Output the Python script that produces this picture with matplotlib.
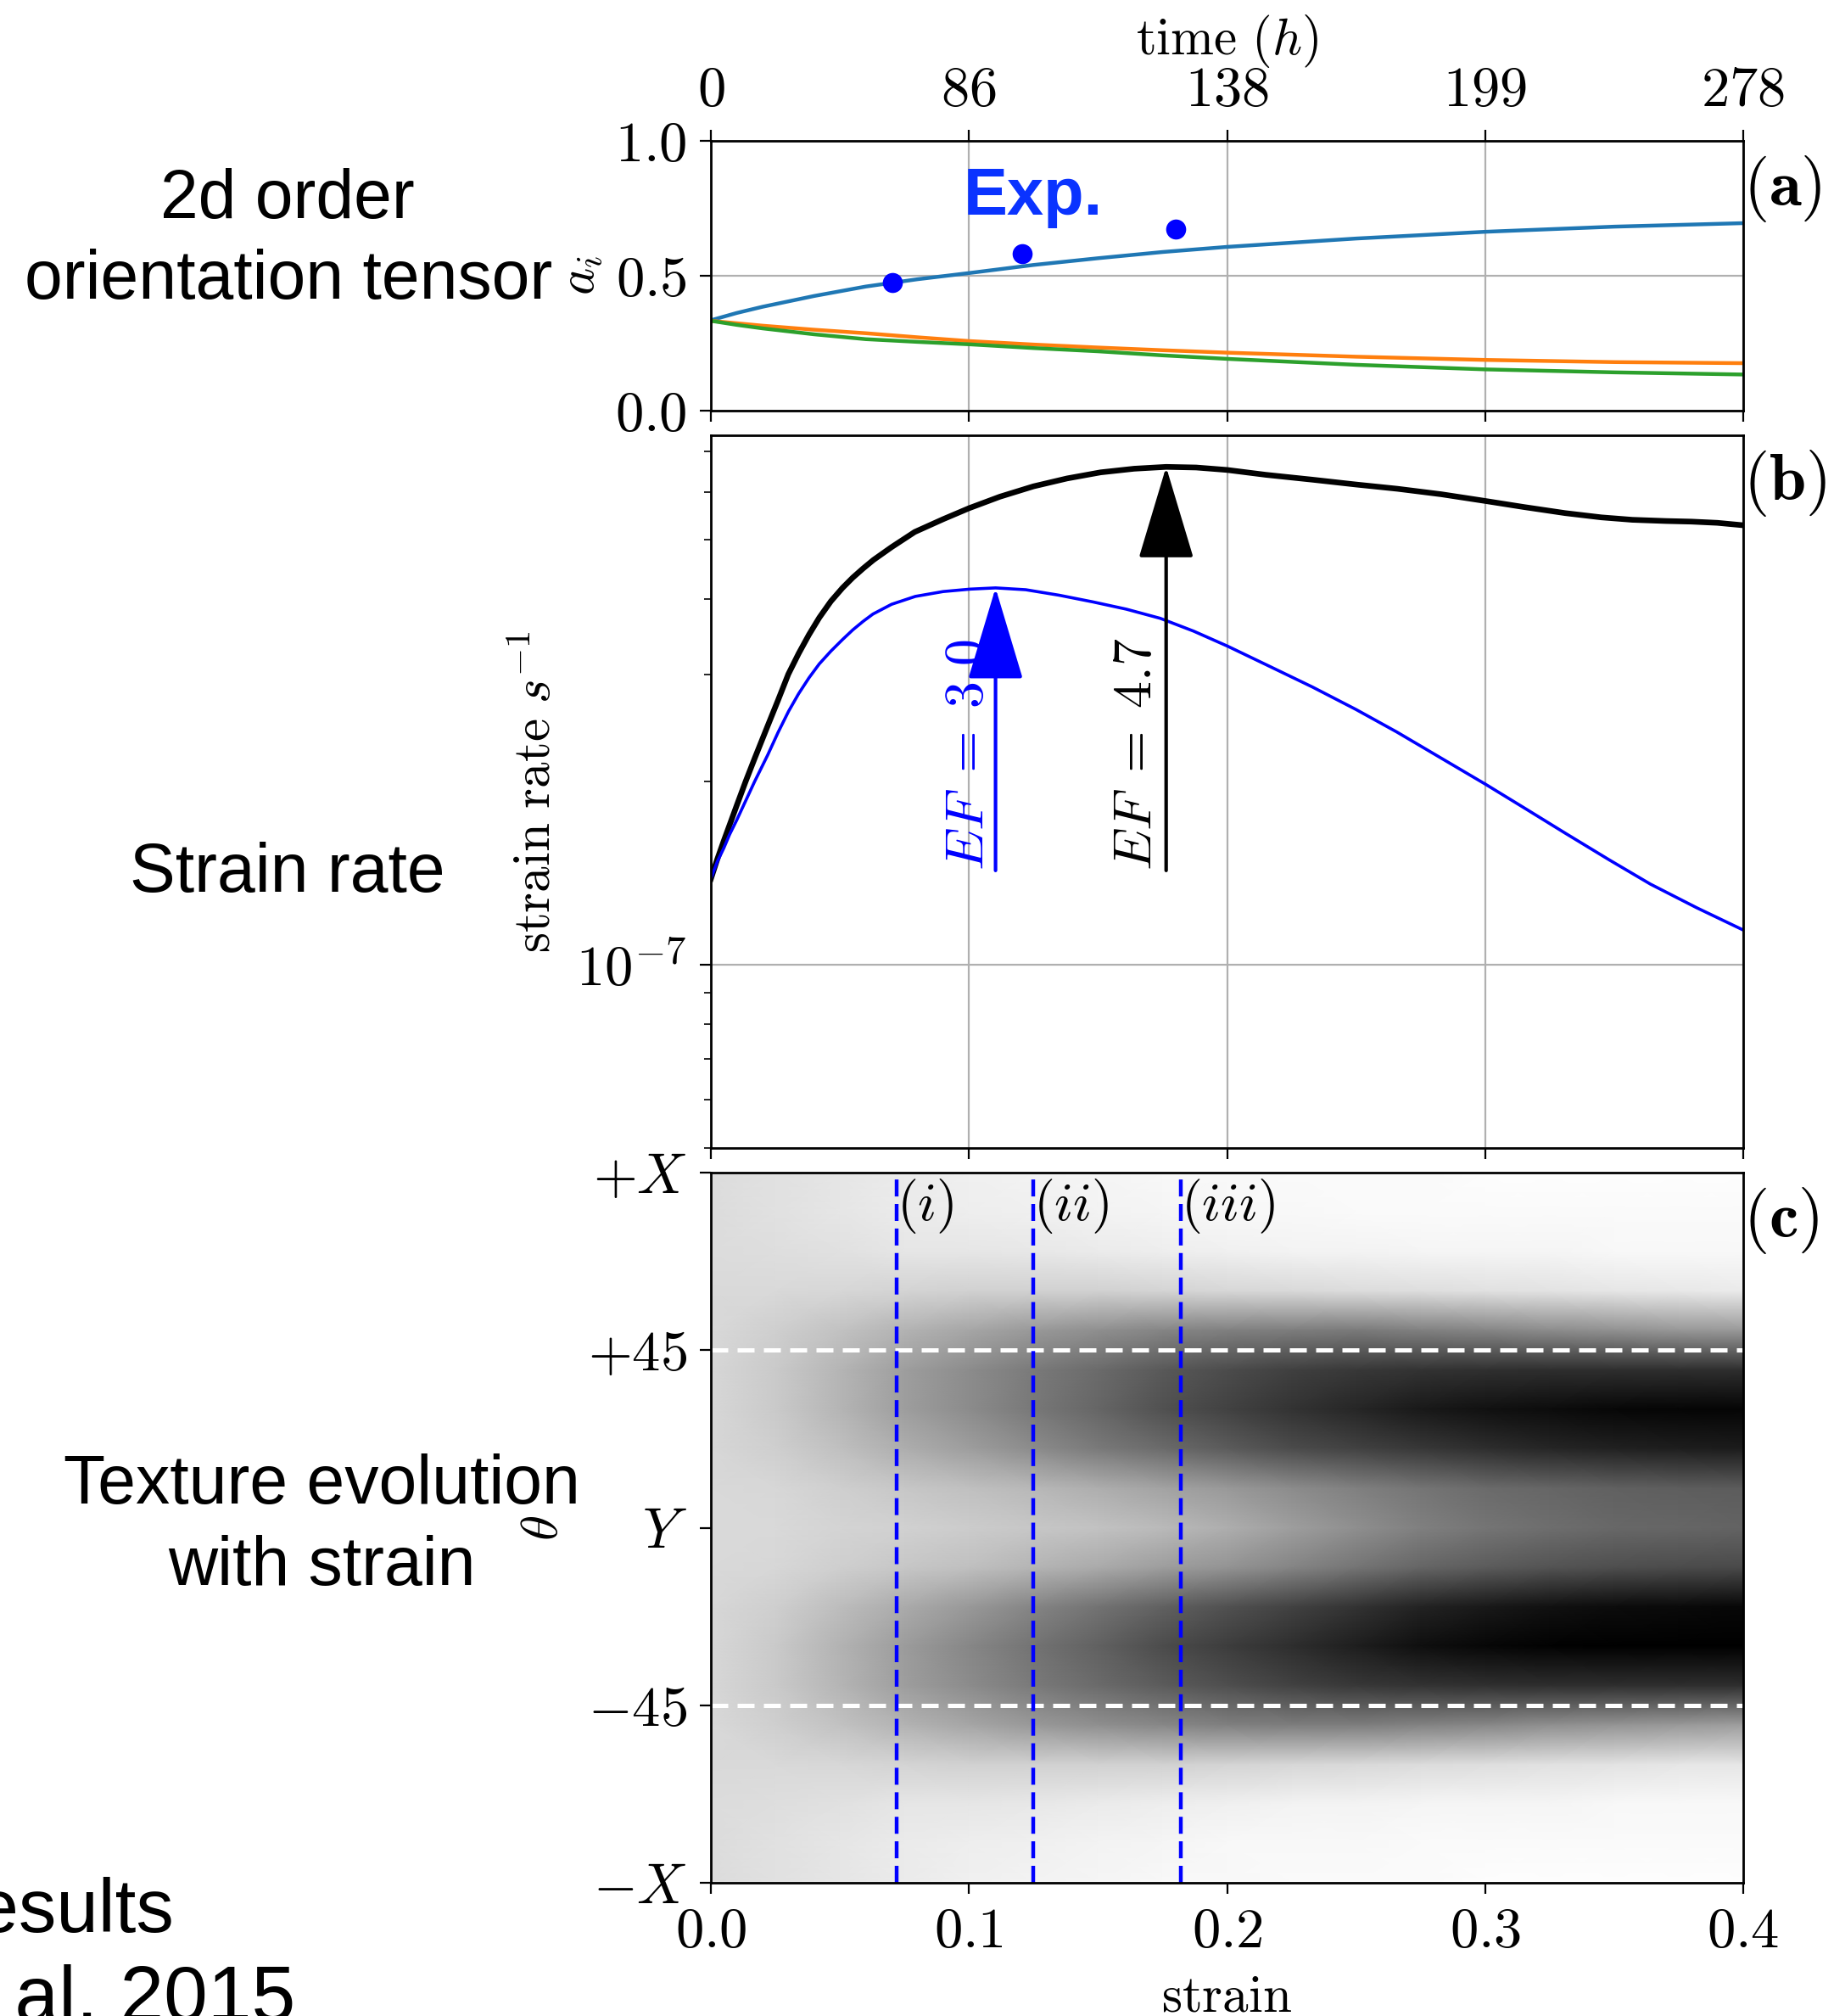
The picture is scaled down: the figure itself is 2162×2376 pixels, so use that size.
import numpy as np
import matplotlib
matplotlib.use("Agg")
import matplotlib.pyplot as plt
from matplotlib.ticker import LogLocator, NullFormatter, FixedLocator

plt.rcParams["mathtext.fontset"] = "cm"
plt.rcParams["font.family"] = ["Liberation Sans", "DejaVu Sans"]

# ---------------- (a) second-order orientation tensor ----------------
strain_a = [0.0, 0.01, 0.02, 0.04, 0.06, 0.08, 0.10, 0.125, 0.15, 0.175, 0.20, 0.25, 0.30, 0.35, 0.40]
a1 = [0.335, 0.362, 0.385, 0.425, 0.460, 0.487, 0.510, 0.540, 0.565, 0.588, 0.607, 0.638, 0.663, 0.682, 0.695]
a2 = [0.333, 0.324, 0.315, 0.300, 0.287, 0.272, 0.258, 0.245, 0.234, 0.224, 0.215, 0.200, 0.188, 0.180, 0.176]
a3 = [0.333, 0.318, 0.305, 0.283, 0.265, 0.255, 0.246, 0.232, 0.220, 0.205, 0.192, 0.170, 0.153, 0.142, 0.134]

exp_strain = [0.0703, 0.1207, 0.180]
exp_a1 = [0.475, 0.583, 0.674]

strain_ticks = [0.0, 0.1, 0.2, 0.3, 0.4]
strain_labels = ["0.0", "0.1", "0.2", "0.3", "0.4"]
time_labels = ["0", "86", "138", "199", "278"]

# ---------------- (b) strain rate (log10 of s^-1) ----------------
strain_ef30 = [0.0, 0.0025, 0.005, 0.0072, 0.01, 0.0135, 0.017, 0.022, 0.026, 0.0301,
               0.034, 0.038, 0.042, 0.0465, 0.051, 0.055, 0.059, 0.0628, 0.07, 0.0792,
               0.09, 0.1005, 0.1103, 0.122, 0.1349, 0.148, 0.161, 0.1741, 0.187, 0.2003,
               0.216, 0.2331, 0.25, 0.2658, 0.283, 0.3002, 0.316, 0.3313, 0.348, 0.364,
               0.382, 0.40]
log_rate_ef30 = [-6.8585, -6.830, -6.808, -6.786, -6.762, -6.730, -6.698, -6.655, -6.618, -6.583,
                 -6.554, -6.528, -6.505, -6.484, -6.465, -6.449, -6.435, -6.423, -6.407, -6.394,
                 -6.386, -6.382, -6.380, -6.383, -6.392, -6.403, -6.415, -6.430, -6.451, -6.476,
                 -6.508, -6.543, -6.580, -6.617, -6.660, -6.703, -6.744, -6.784, -6.827, -6.867,
                 -6.906, -6.9426]

strain_ef47 = [0.0, 0.0025, 0.005, 0.0072, 0.01, 0.0135, 0.017, 0.022, 0.026, 0.030,
               0.034, 0.038, 0.042, 0.0465, 0.051, 0.055, 0.059, 0.063, 0.07, 0.079,
               0.09, 0.10, 0.112, 0.125, 0.138, 0.151, 0.164, 0.1764, 0.188, 0.20,
               0.215, 0.233, 0.25, 0.266, 0.283, 0.30, 0.315, 0.331, 0.345, 0.357,
               0.37, 0.38, 0.39, 0.40]
log_rate_ef47 = [-6.8585, -6.826, -6.796, -6.7705, -6.738, -6.698, -6.660, -6.607, -6.565, -6.522,
                 -6.488, -6.457, -6.429, -6.402, -6.380, -6.363, -6.348, -6.334, -6.313, -6.288,
                 -6.267, -6.249, -6.230, -6.213, -6.200, -6.190, -6.184, -6.181, -6.182, -6.186,
                 -6.194, -6.202, -6.210, -6.217, -6.226, -6.237, -6.247, -6.257, -6.264, -6.268,
                 -6.270, -6.271, -6.273, -6.277]

ef_texts = [r"$EF\;=\;3.0$", r"$EF\;=\;4.7$"]
arrow_tail_rate = 1.43e-7

# ---------------- (c) texture evolution ----------------
theta_rows = [90, 80, 70, 60, 50, 40, 30, 20, 10, 0, -10, -20, -30, -40, -50, -60, -70, -80, -90]
strain_cols = [0.0, 0.025, 0.05, 0.075, 0.10, 0.125, 0.15, 0.175, 0.20,
               0.225, 0.25, 0.275, 0.30, 0.325, 0.35, 0.375, 0.40]
# grey level of each strain column along theta (1 = white)
grey_s000 = [0.86, 0.86, 0.86, 0.85, 0.85, 0.84, 0.84, 0.84, 0.85, 0.85, 0.85, 0.84, 0.84, 0.84, 0.85, 0.85, 0.86, 0.86, 0.86]
grey_s025 = [0.88, 0.88, 0.87, 0.85, 0.81, 0.79, 0.79, 0.81, 0.84, 0.85, 0.84, 0.81, 0.79, 0.79, 0.81, 0.85, 0.87, 0.88, 0.88]
grey_s050 = [0.90, 0.90, 0.88, 0.84, 0.76, 0.71, 0.71, 0.75, 0.81, 0.83, 0.81, 0.74, 0.70, 0.71, 0.76, 0.84, 0.88, 0.90, 0.90]
grey_s075 = [0.92, 0.92, 0.90, 0.83, 0.70, 0.62, 0.62, 0.68, 0.78, 0.82, 0.78, 0.67, 0.61, 0.62, 0.70, 0.83, 0.90, 0.92, 0.92]
grey_s100 = [0.94, 0.93, 0.90, 0.82, 0.65, 0.55, 0.55, 0.62, 0.75, 0.80, 0.75, 0.60, 0.53, 0.55, 0.65, 0.82, 0.90, 0.93, 0.94]
grey_s125 = [0.95, 0.94, 0.91, 0.82, 0.60, 0.48, 0.47, 0.55, 0.72, 0.78, 0.71, 0.52, 0.45, 0.48, 0.60, 0.82, 0.91, 0.94, 0.95]
grey_s150 = [0.96, 0.95, 0.92, 0.82, 0.56, 0.42, 0.40, 0.48, 0.68, 0.76, 0.67, 0.45, 0.38, 0.42, 0.56, 0.82, 0.92, 0.95, 0.96]
grey_s175 = [0.97, 0.96, 0.93, 0.83, 0.52, 0.35, 0.32, 0.42, 0.64, 0.73, 0.62, 0.38, 0.30, 0.36, 0.53, 0.82, 0.93, 0.96, 0.97]
grey_s200 = [0.97, 0.97, 0.94, 0.84, 0.50, 0.30, 0.26, 0.36, 0.60, 0.68, 0.58, 0.32, 0.24, 0.31, 0.50, 0.83, 0.94, 0.97, 0.97]
grey_s225 = [0.98, 0.97, 0.95, 0.85, 0.49, 0.25, 0.20, 0.30, 0.55, 0.62, 0.52, 0.26, 0.18, 0.26, 0.49, 0.84, 0.95, 0.97, 0.98]
grey_s250 = [0.98, 0.98, 0.95, 0.86, 0.48, 0.22, 0.15, 0.26, 0.50, 0.56, 0.46, 0.20, 0.12, 0.22, 0.49, 0.85, 0.95, 0.97, 0.98]
grey_s275 = [0.98, 0.98, 0.96, 0.87, 0.50, 0.20, 0.10, 0.22, 0.46, 0.50, 0.40, 0.14, 0.06, 0.20, 0.51, 0.86, 0.96, 0.98, 0.98]
grey_s300 = [0.99, 0.98, 0.96, 0.88, 0.52, 0.19, 0.07, 0.18, 0.42, 0.46, 0.36, 0.10, 0.03, 0.19, 0.53, 0.87, 0.96, 0.98, 0.99]
grey_s325 = [0.99, 0.98, 0.96, 0.89, 0.55, 0.18, 0.05, 0.15, 0.40, 0.43, 0.33, 0.07, 0.01, 0.18, 0.56, 0.88, 0.96, 0.98, 0.99]
grey_s350 = [0.99, 0.98, 0.97, 0.90, 0.57, 0.18, 0.03, 0.13, 0.38, 0.41, 0.31, 0.05, 0.00, 0.18, 0.58, 0.89, 0.97, 0.98, 0.99]
grey_s375 = [0.99, 0.98, 0.97, 0.91, 0.59, 0.18, 0.02, 0.12, 0.37, 0.40, 0.30, 0.04, 0.00, 0.18, 0.60, 0.90, 0.97, 0.98, 0.99]
grey_s400 = [0.99, 0.98, 0.97, 0.92, 0.60, 0.18, 0.02, 0.11, 0.36, 0.39, 0.29, 0.03, 0.00, 0.18, 0.62, 0.90, 0.97, 0.98, 0.99]

theta_ticks = [90, 45, 0, -45, -90]
theta_labels = [r"$+X$", r"$+45$", r"$Y$", r"$-45$", r"$-X$"]
snapshot_strain = [0.072, 0.125, 0.182]
snapshot_labels = [r"$(i)$", r"$(ii)$", r"$(iii)$"]

# ---------------- figure layout ----------------
FW, FH, DPI = 2162, 2376, 200
fig = plt.figure(figsize=(FW / DPI, FH / DPI), dpi=DPI)

def axes_box(left, top, right, bottom):
    return [left / FW, 1 - bottom / FH, (right - left) / FW, (bottom - top) / FH]

ax_a = fig.add_axes(axes_box(838, 166, 2055, 484))
ax_b = fig.add_axes(axes_box(838, 513, 2055, 1353))
ax_c = fig.add_axes(axes_box(838, 1382, 2055, 2219))

TICK_FS = 24
LABEL_FS = 22
GRID_KW = dict(color="#b0b0b0", lw=0.8)

def math(s):
    return r"$\mathrm{" + s + "}$"

for ax in (ax_a, ax_b, ax_c):
    ax.set_xlim(0, 0.4)
    ax.tick_params(direction="out", length=4.7, width=0.8, pad=5.4, labelsize=TICK_FS)
    for sp in ax.spines.values():
        sp.set_linewidth(1.0)
    ax.set_xticks(strain_ticks)

# ---- (a)
ax_a.plot(strain_a, a1, color="#1f77b4", lw=1.6)
ax_a.plot(strain_a, a2, color="#ff7f0e", lw=1.6)
ax_a.plot(strain_a, a3, color="#2ca02c", lw=1.6)
ax_a.plot(exp_strain, exp_a1, "o", color="#0000ff", ms=7.5, zorder=5)
ax_a.text(0.1249, 0.79, "Exp.", color="#0a33ff", fontsize=28, fontweight="bold",
          ha="center", va="center")
ax_a.set_ylim(0, 1)
ax_a.set_yticks([0, 0.5, 1.0])
ax_a.set_yticklabels([math("0.0"), math("0.5"), math("1.0")])
ax_a.set_xticklabels([math(t) for t in time_labels])
ax_a.tick_params(axis="x", top=True, labeltop=True, bottom=True, labelbottom=False, pad=5.0)
ax_a.xaxis.set_label_position("top")
ax_a.set_xlabel(r"$\mathrm{time}\ (h)$", fontsize=LABEL_FS)
ax_a.xaxis.set_label_coords(0.5, 1.32)
ax_a.set_ylabel(r"$a_i$", fontsize=LABEL_FS)
ax_a.yaxis.set_label_coords(-0.103, 0.5)
ax_a.grid(True, **GRID_KW)
ax_a.set_axisbelow(True)

# ---- (b)
rate_ef30 = 10.0 ** np.array(log_rate_ef30)
rate_ef47 = 10.0 ** np.array(log_rate_ef47)
ax_b.set_yscale("log")
ax_b.plot(strain_ef47, rate_ef47, color="black", lw=2.4)
ax_b.plot(strain_ef30, rate_ef30, color="#0000ff", lw=1.3)
ax_b.set_ylim(5e-8, 7.43e-7)
ax_b.yaxis.set_major_locator(FixedLocator([1e-7]))
ax_b.set_yticklabels([r"$10^{-7}$"])
ax_b.yaxis.set_minor_locator(LogLocator(base=10, subs=np.arange(2, 10), numticks=20))
ax_b.yaxis.set_minor_formatter(NullFormatter())
ax_b.tick_params(axis="y", which="minor", direction="out", length=2.9, width=0.6)
ax_b.tick_params(axis="x", labelbottom=False)
ax_b.grid(True, which="major", **GRID_KW)
ax_b.set_axisbelow(True)
ax_b.set_ylabel(r"$\mathrm{strain\ rate}\ s^{-1}$", fontsize=LABEL_FS)
ax_b.yaxis.set_label_coords(-0.145, 0.5)

# arrows pointing at the peak of each curve
for xs, ys, col, txt, dx in ((strain_ef30, rate_ef30, "#0000ff", ef_texts[0], -0.0105),
                             (strain_ef47, rate_ef47, "black", ef_texts[1], -0.0115)):
    k = int(np.argmax(ys))
    ax_b.annotate("", xy=(xs[k], ys[k]), xytext=(xs[k], arrow_tail_rate),
                  arrowprops=dict(arrowstyle="-|>,head_length=3.5,head_width=1.05",
                                  mutation_scale=10, color=col, lw=1.5,
                                  shrinkA=0, shrinkB=0))
    ax_b.text(xs[k] + dx, arrow_tail_rate, txt, color=col, fontsize=23, rotation=90,
              ha="center", va="bottom")

# ---- (c)
grey = np.column_stack([grey_s000, grey_s025, grey_s050, grey_s075, grey_s100, grey_s125,
                        grey_s150, grey_s175, grey_s200, grey_s225, grey_s250, grey_s275,
                        grey_s300, grey_s325, grey_s350, grey_s375, grey_s400])
ax_c.pcolormesh(strain_cols, theta_rows, grey, cmap="gray", vmin=0, vmax=1,
                shading="gouraud", rasterized=True)
ax_c.set_ylim(-90, 90)
ax_c.set_yticks(theta_ticks)
ax_c.set_yticklabels(theta_labels)
ax_c.set_xticklabels([math(t) for t in strain_labels])
for th in (45, -45):
    ax_c.axhline(th, color="white", lw=1.8, ls=(0, (4.0, 2.2)))
for s, lab in zip(snapshot_strain, snapshot_labels):
    ax_c.axvline(s, color="#0000ff", lw=1.6, ls=(0, (4.5, 2.0)))
    ax_c.text(s, 89, lab, fontsize=23, ha="left", va="top")
ax_c.set_xlabel(math("strain"), fontsize=LABEL_FS)
ax_c.xaxis.set_label_coords(0.5, -0.128)
ax_c.set_ylabel(r"$\theta$", fontsize=LABEL_FS)
ax_c.yaxis.set_label_coords(-0.138, 0.5)

# panel letters
for ax, h, letter in ((ax_a, 318, "a"), (ax_b, 840, "b"), (ax_c, 837, "c")):
    ax.text(1.0, 1 - 57 / h, r"$\mathbf{(" + letter + ")}$",
            transform=ax.transAxes, fontsize=28, ha="left", va="center")

# side captions
def caption(x, y, s, **kw):
    fig.text(x / FW, 1 - y / FH, s, fontsize=kw.pop("fontsize", 29), va="baseline", **kw)

caption(339, 257, "2d order", ha="center")
caption(340, 352, "orientation tensor", ha="center")
caption(339, 1051, "Strain rate", ha="center")
caption(379, 1772, "Texture evolution", ha="center")
caption(379, 1868, "with strain", ha="center")
caption(205, 2277, "results", ha="right", fontsize=32)
caption(348, 2382, "et al. 2015", ha="right", fontsize=33.5)

fig.savefig("out.png", dpi=DPI)
